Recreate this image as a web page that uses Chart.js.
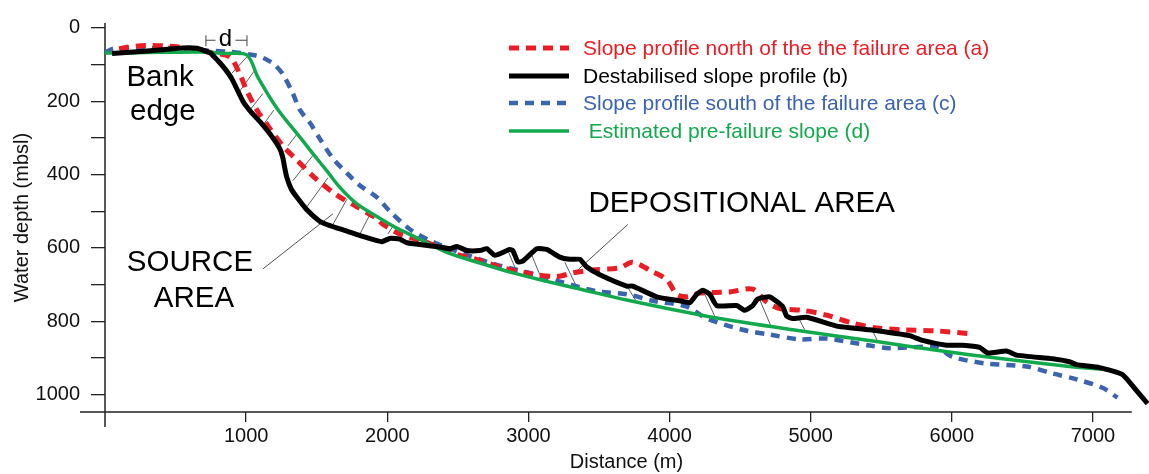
<!DOCTYPE html>
<html>
<head>
<meta charset="utf-8">
<script src="https://cdn.jsdelivr.net/npm/chart.js@4.4.1/dist/chart.umd.min.js"></script>
<style>
  body { margin: 0; background: #fff; }
  #wrap { width: 1149px; height: 474px; position: relative; }
</style>
</head>
<body>
<div id="wrap"><canvas id="slopeChart"></canvas></div>
<script>
const FONT = "Arial, 'Liberation Sans', sans-serif";

// distance (m), depth (mbsl) pairs
const NORTH_PROFILE = [
    [100, 58], [156, 53], [297, 48], [510, 52], [650, 60], [765, 69], [885, 80], [956, 127],
    [1005, 172], [1076, 224], [1160, 270], [1261, 322], [1360, 361], [1487, 409], [1643, 456],
    [1785, 488], [1926, 520], [1971, 536], [2089, 562], [2302, 588], [2465, 615], [2606, 628],
    [2819, 654], [3010, 670], [3201, 678], [3314, 668], [3456, 660], [3647, 654], [3739, 639],
    [3881, 665], [3980, 686], [4051, 726], [4122, 733], [4214, 723], [4426, 720], [4589, 712],
    [4688, 747], [4780, 765], [4943, 770], [5113, 783], [5297, 805], [5467, 818], [5652, 823],
    [5892, 826], [6147, 834]
];

const DESTABILISED_PROFILE = [
    [50, 70], [200, 66], [400, 60], [550, 55], [650, 56], [744, 68], [800, 90], [850, 112],
    [900, 140], [977, 200], [1040, 232], [1098, 256], [1180, 295], [1239, 330], [1261, 356],
    [1275, 385], [1289, 409], [1320, 440], [1360, 462], [1430, 496], [1523, 528], [1572, 536],
    [1640, 545], [1714, 554], [1820, 568], [1926, 580], [1962, 583], [2018, 574], [2089, 576],
    [2139, 586], [2351, 596], [2443, 602], [2493, 596], [2564, 607], [2656, 607], [2705, 602],
    [2762, 620], [2868, 604], [2890, 607], [2925, 638], [2960, 636], [3059, 602], [3130, 604],
    [3222, 625], [3293, 631], [3364, 631], [3414, 652], [3506, 673], [3697, 704], [3739, 704],
    [3909, 733], [4072, 744], [4143, 749], [4193, 726], [4235, 715], [4285, 726], [4334, 757],
    [4476, 757], [4533, 770], [4589, 757], [4625, 739], [4710, 733], [4802, 760], [4830, 786],
    [4873, 792], [4972, 789], [5184, 813], [5297, 818], [5418, 823], [5701, 839], [5793, 852],
    [5963, 865], [6076, 865], [6197, 871], [6254, 886], [6388, 881], [6459, 892], [6714, 902],
    [6834, 910], [6884, 918], [7047, 926], [7210, 945], [7309, 989], [7387, 1024]
];

const SOUTH_PROFILE = [
    [0, 68], [60, 57], [300, 55], [600, 57], [722, 62], [900, 66], [1048, 74], [1098, 79],
    [1147, 87], [1200, 100], [1261, 127], [1331, 179], [1381, 224], [1452, 259], [1523, 303],
    [1615, 356], [1714, 396], [1806, 430], [1926, 462], [2018, 500], [2160, 549], [2302, 580],
    [2535, 615], [2776, 646], [3010, 668], [3244, 694], [3484, 718], [3697, 726], [3881, 744],
    [4122, 760], [4263, 792], [4518, 823], [4710, 836], [4922, 849], [5113, 847], [5418, 866],
    [5559, 873], [5892, 871], [6006, 897], [6246, 915], [6530, 923], [6714, 942], [6884, 958],
    [7068, 981], [7174, 1008]
];

const PRE_FAILURE_SLOPE = [
    [0, 69], [200, 68], [400, 67], [673, 66], [850, 70], [1005, 74], [1084, 135], [1218, 219],
    [1381, 298], [1473, 343], [1572, 390], [1664, 435], [1785, 480], [1926, 514],
    [2068, 546], [2181, 567], [2422, 612], [2656, 641], [2890, 668], [3130, 691], [3364, 712],
    [3697, 742], [4263, 786], [4873, 823], [5467, 855], [5892, 879], [6360, 902], [6834, 923],
    [7100, 932]
];

// thin hatch lines between destabilised and pre-failure profile: [x1, y1, x2, y2]
const HATCH_LINES = [
    [899, 124, 1006, 79], [956, 172, 1055, 119], [1027, 224, 1119, 179], [1112, 269, 1197, 224],
    [1296, 322, 1360, 290], [1331, 417, 1473, 348], [1430, 488, 1579, 409], [1615, 536, 1714, 467],
    [1806, 562, 1877, 509], [2004, 562, 2040, 541],
    [2854, 607, 2918, 665], [3024, 620, 3081, 673], [3258, 639, 3343, 707], [3704, 707, 3761, 744],
    [4242, 720, 4320, 786], [4639, 741, 4724, 818], [4922, 797, 4958, 823], [5439, 826, 5475, 855]
];

// leader lines from the area labels
const LEADER_LINES = [
    [1119, 657, 1615, 507],
    [3704, 536, 3350, 660]
];

// annotation text: [text, x, y(baseline)]
const AREA_LABELS = [
    ["Bank", 390, 158], ["edge", 410, 251],
    ["SOURCE", 602, 662], ["AREA", 630, 760],
    ["DEPOSITIONAL AREA", 4511, 501]
];

const D_MARKER = { from: 715, to: 1006, depth: 34, label: "d" };

const X_TICKS = [1000, 2000, 3000, 4000, 5000, 6000, 7000];
const Y_TICKS = [0, 100, 200, 300, 400, 500, 600, 700, 800, 900, 1000];
const X_AXIS_END = 7275;

const SERIES_LABELS = [
    "Slope profile north of the the failure area (a)",
    "Destabilised slope profile (b)",
    "Slope profile south of the failure area (c)",
    " Estimated pre-failure slope (d)"
];

const RED = "#ed1c24";
const BLUE = "#3a64b0";
const GREEN = "#12a84c";

function toPoints(arr) {
    return arr.map(p => ({x: p[0], y: p[1]}));
}

function hatchPoints(lines) {
    let pts = [];
    for (let l of lines) {
        pts.push({x: l[0], y: l[1]});
        pts.push({x: l[2], y: l[3]});
        pts.push({x: l[2], y: null});
    }
    return pts;
}

// draws the axis lines (they overshoot each other), legend and annotations
const annotate = {
    id: 'annotate',
    beforeDatasetsDraw(chart) {
        const ctx = chart.ctx;
        const a = chart.chartArea;
        const xEnd = chart.scales.x.getPixelForValue(X_AXIS_END);
        ctx.save();
        ctx.strokeStyle = "#222";
        ctx.lineWidth = 1.5;
        ctx.beginPath();
        ctx.moveTo(a.left - 25, a.bottom);
        ctx.lineTo(xEnd, a.bottom);
        ctx.moveTo(a.left, a.top);
        ctx.lineTo(a.left, a.bottom + 15);
        ctx.stroke();
        ctx.restore();
    },
    afterDatasetsDraw(chart) {
        const ctx = chart.ctx;
        const xs = chart.scales.x;
        const ys = chart.scales.y;
        ctx.save();

        // leader lines
        ctx.strokeStyle = "#222";
        ctx.lineWidth = 0.8;
        for (let l of LEADER_LINES) {
            ctx.beginPath();
            ctx.moveTo(xs.getPixelForValue(l[0]), ys.getPixelForValue(l[1]));
            ctx.lineTo(xs.getPixelForValue(l[2]), ys.getPixelForValue(l[3]));
            ctx.stroke();
        }

        // area labels
        ctx.fillStyle = "#000";
        ctx.font = "29.5px " + FONT;
        ctx.textAlign = "center";
        ctx.textBaseline = "alphabetic";
        for (let t of AREA_LABELS) {
            ctx.fillText(t[0], xs.getPixelForValue(t[1]), ys.getPixelForValue(t[2]));
        }

        // d marker
        let x1 = xs.getPixelForValue(D_MARKER.from);
        let x2 = xs.getPixelForValue(D_MARKER.to);
        let yy = ys.getPixelForValue(D_MARKER.depth);
        let xm = (x1 + x2) / 2;
        ctx.strokeStyle = "#444";
        ctx.lineWidth = 1;
        ctx.beginPath();
        ctx.moveTo(x1, yy - 5); ctx.lineTo(x1, yy + 6);
        ctx.moveTo(x2, yy - 5); ctx.lineTo(x2, yy + 6);
        ctx.moveTo(x1, yy); ctx.lineTo(xm - 11, yy);
        ctx.moveTo(xm + 9, yy); ctx.lineTo(x2, yy);
        ctx.stroke();
        ctx.font = "24px " + FONT;
        ctx.fillText(D_MARKER.label, xm - 1, yy + 6);

        // legend
        ctx.textAlign = "left";
        ctx.textBaseline = "middle";
        ctx.font = "21px " + FONT;
        let rowY = [48, 76, 103, 131];
        [0, 1, 2, 3].forEach((di, i) => {
            let ds = chart.data.datasets[di];
            ctx.strokeStyle = ds.borderColor;
            ctx.lineWidth = ds.borderWidth;
            ctx.setLineDash(ds.borderDash || []);
            ctx.beginPath();
            ctx.moveTo(509, rowY[i]);
            ctx.lineTo(569, rowY[i]);
            ctx.stroke();
            ctx.setLineDash([]);
            ctx.fillStyle = ds.borderColor;
            ctx.fillText(ds.label, 583, rowY[i] + 1);
        });
        ctx.restore();
    }
};

const ctx = document.getElementById('slopeChart').getContext('2d');

new Chart(ctx, {
    type: 'line',
    data: {
        datasets: [
            {
                label: SERIES_LABELS[0],
                data: toPoints(NORTH_PROFILE),
                borderColor: RED,
                borderWidth: 5,
                borderDash: [10, 7],
                tension: 0.3,
                order: 2,
            },
            {
                label: SERIES_LABELS[1],
                data: toPoints(DESTABILISED_PROFILE),
                borderColor: "#000",
                borderWidth: 5,
                tension: 0.15,
                order: 0,
            },
            {
                label: SERIES_LABELS[2],
                data: toPoints(SOUTH_PROFILE),
                borderColor: BLUE,
                borderWidth: 4.5,
                borderDash: [9, 7],
                tension: 0.3,
                order: 3,
            },
            {
                label: SERIES_LABELS[3],
                data: toPoints(PRE_FAILURE_SLOPE),
                borderColor: GREEN,
                borderWidth: 3.5,
                tension: 0.3,
                order: 1,
            },
            {
                label: "hatch",
                data: hatchPoints(HATCH_LINES),
                borderColor: "#333",
                borderWidth: 0.8,
                tension: 0,
                spanGaps: false,
                order: 4,
            },
        ]
    },
    options: {
        responsive: true,
        maintainAspectRatio: false,
        animation: false,
        elements: {
            point: { radius: 0, hoverRadius: 0 },
            line: { borderCapStyle: 'butt', borderJoinStyle: 'round', fill: false }
        },
        datasets: { line: { clip: false } },
        layout: { padding: { top: 10, right: 1, left: 0, bottom: 0 } },
        plugins: {
            legend: { display: false },
            tooltip: { enabled: false },
        },
        scales: {
            x: {
                type: 'linear',
                min: 0,
                max: 7390,
                afterBuildTicks: s => { s.ticks = X_TICKS.map(v => ({value: v})); },
                afterFit: s => { s.height = 62; },
                border: { display: false },
                grid: { drawOnChartArea: false, drawTicks: true, tickLength: 10, color: "#222", lineWidth: 1.3 },
                ticks: {
                    color: "#111",
                    font: { size: 20, family: FONT },
                    padding: 2,
                    maxRotation: 0,
                    autoSkip: false,
                    callback: v => String(v)
                },
                title: { display: true, text: "Distance (m)", color: "#111", font: { size: 20, family: FONT }, padding: { top: 0, bottom: 0 } }
            },
            y: {
                type: 'linear',
                reverse: true,
                min: -13,
                max: 1047,
                afterBuildTicks: s => { s.ticks = Y_TICKS.map(v => ({value: v})); },
                afterFit: s => { s.width = 105; },
                border: { display: false },
                grid: { drawOnChartArea: false, drawTicks: true, tickLength: 14, color: "#222", lineWidth: 1.3 },
                ticks: {
                    color: "#111",
                    font: { size: 20, family: FONT },
                    padding: 11,
                    autoSkip: false,
                    callback: v => (v % 200 === 0 ? String(v) : '')
                },
                title: { display: true, text: "Water depth (mbsl)", color: "#111", font: { size: 20, family: FONT }, padding: { top: 10, bottom: 0 } }
            }
        }
    },
    plugins: [annotate]
});
</script>
</body>
</html>
